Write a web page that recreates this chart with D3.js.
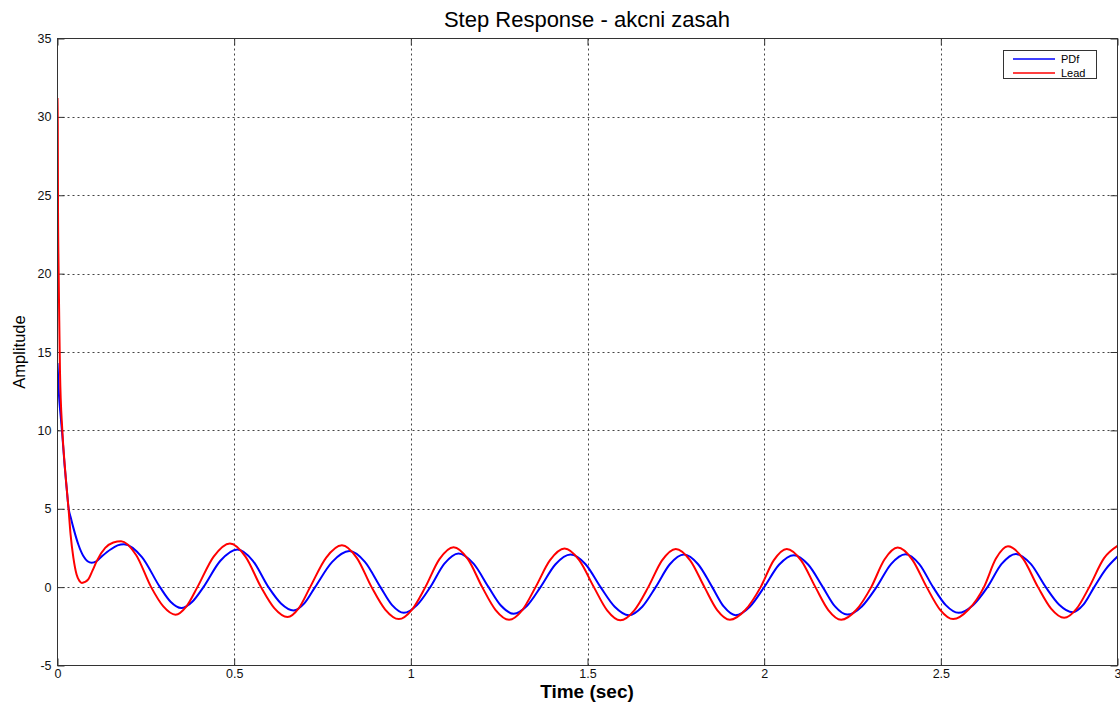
<!DOCTYPE html>
<html>
<head>
<meta charset="utf-8">
<script src="https://cdn.jsdelivr.net/npm/d3@7"></script>
<style>
  html, body { margin: 0; padding: 0; background: #fff; }
  svg { display: block; font-family: "Liberation Sans", Arial, sans-serif; }
</style>
</head>
<body>
<svg id="chart" width="1120" height="704"></svg>
<script>
// Axis ticks
const xTicks = [0, 0.5, 1, 1.5, 2, 2.5, 3];
const xTickLabels = ["0", "0.5", "1", "1.5", "2", "2.5", "3"];
const yTicks = [-5, 0, 5, 10, 15, 20, 25, 30, 35];
const yTickLabels = ["-5", "0", "5", "10", "15", "20", "25", "30", "35"];

// Series names
const seriesNames = ["PDf", "Lead"];
const seriesColors = ["#0000ff", "#ff0000"];

// PDf controller action signal [time (s), amplitude]
const pdfTime = [
  0, 0.004, 0.009, 0.014, 0.02, 0.026, 0.031, 0.038, 0.045, 0.059, 0.074, 0.085, 0.097, 0.11, 0.125, 0.15, 0.17, 0.188,
  0.239, 0.29, 0.32, 0.35, 0.3815, 0.413, 0.461, 0.509, 0.553, 0.597, 0.6325, 0.668, 0.6985, 0.729,
  0.7775, 0.826, 0.87, 0.914, 0.947, 0.98, 1.0175, 1.055, 1.095, 1.135, 1.1775, 1.22, 1.2555, 1.291,
  1.329, 1.367, 1.4095, 1.452, 1.4945, 1.537, 1.577, 1.617, 1.655, 1.693, 1.733, 1.773, 1.813, 1.853,
  1.886, 1.919, 1.9595, 2.0, 2.042, 2.084, 2.125, 2.166, 2.2005, 2.235, 2.2765, 2.318, 2.359, 2.4,
  2.439, 2.478, 2.514, 2.55, 2.591, 2.632, 2.672, 2.712, 2.7545, 2.797, 2.835, 2.873, 2.9035, 2.934,
  2.967, 3.0
];
const pdfValue = [
  14.3, 12.3, 10.9, 9.6, 7.8, 6.3, 5.1, 4.4, 3.78, 2.72, 1.95, 1.65, 1.55, 1.65, 1.95, 2.4, 2.66, 2.74,
  1.92, 0, -0.93, -1.33, -0.93, 0, 1.68, 2.4, 1.68, 0, -1.04, -1.49, -1.04, 0,
  1.61, 2.3, 1.61, 0, -1.15, -1.64, -1.15, 0, 1.5, 2.15, 1.5, 0, -1.19, -1.7,
  -1.19, 0, 1.46, 2.08, 1.46, 0, -1.25, -1.79, -1.25, 0, 1.46, 2.08, 1.46, 0,
  -1.25, -1.79, -1.25, 0, 1.43, 2.04, 1.43, 0, -1.23, -1.75, -1.23, 0, 1.47, 2.1,
  1.47, 0, -1.15, -1.64, -1.15, 0, 1.48, 2.12, 1.48, 0, -1.12, -1.6, -1.12, 0,
  1.15, 1.95
];

// Lead compensator action signal [time (s), amplitude]
const leadTime = [
  0, 0.0008, 0.0015, 0.003, 0.005, 0.007, 0.0136, 0.019, 0.024, 0.031, 0.037, 0.045, 0.054, 0.062, 0.069, 0.078, 0.087, 0.099, 0.111, 0.135, 0.158, 0.18,
  0.2225, 0.265, 0.2995, 0.334, 0.365, 0.396, 0.442, 0.488, 0.532, 0.576, 0.6135, 0.651, 0.683, 0.715,
  0.76, 0.805, 0.847, 0.889, 0.9275, 0.966, 1.0035, 1.041, 1.081, 1.121, 1.1615, 1.202, 1.24, 1.278,
  1.3155, 1.353, 1.394, 1.435, 1.4765, 1.518, 1.5555, 1.593, 1.6325, 1.672, 1.711, 1.75, 1.7905, 1.831,
  1.867, 1.903, 1.9465, 1.99, 2.027, 2.064, 2.1045, 2.145, 2.1815, 2.218, 2.2605, 2.303, 2.3405, 2.378,
  2.419, 2.46, 2.4975, 2.535, 2.5785, 2.622, 2.656, 2.69, 2.7325, 2.775, 2.812, 2.849, 2.8845, 2.92,
  2.962, 3.0
];
const leadValue = [
  31.2, 29.5, 24.0, 20.5, 17.0, 13.8, 10.0, 8.2, 6.8, 5.06, 3.36, 1.87, 0.81, 0.4, 0.27, 0.33, 0.49, 1.05, 1.66, 2.5, 2.85, 2.93,
  2.05, 0, -1.23, -1.76, -1.23, 0, 1.95, 2.79, 1.95, 0, -1.34, -1.91, -1.34, 0,
  1.87, 2.67, 1.87, 0, -1.43, -2.04, -1.43, 0, 1.79, 2.55, 1.79, 0, -1.46, -2.08,
  -1.46, 0, 1.72, 2.46, 1.72, 0, -1.48, -2.12, -1.48, 0, 1.71, 2.44, 1.71, 0,
  -1.46, -2.08, -1.46, 0, 1.71, 2.44, 1.71, 0, -1.46, -2.08, -1.46, 0, 1.76, 2.52,
  1.76, 0, -1.43, -2.04, -1.43, 0, 1.82, 2.6, 1.82, 0, -1.37, -1.96, -1.37, 0,
  1.85, 2.63
];

const svg = d3.select("#chart");
const plot = { left: 57.5, right: 1117.5, top: 38.5, bottom: 665.5 };

const x = d3.scaleLinear().domain([0, 3]).range([plot.left, plot.right]);
const y = d3.scaleLinear().domain([-5, 35]).range([plot.bottom, plot.top]);

const frameColor = "#333";
const tickLen = 7;

// grid lines (dotted)
const grid = svg.append("g").attr("stroke", "#444").attr("stroke-width", 1).attr("stroke-dasharray", "2,3");
xTicks.slice(1, -1).forEach(t => {
  grid.append("line").attr("x1", Math.round(x(t)) + 0.5).attr("x2", Math.round(x(t)) + 0.5)
    .attr("y1", plot.top).attr("y2", plot.bottom);
});
yTicks.slice(1, -1).forEach(t => {
  grid.append("line").attr("y1", Math.round(y(t)) + 0.5).attr("y2", Math.round(y(t)) + 0.5)
    .attr("x1", plot.left).attr("x2", plot.right);
});

// axes with inward ticks on all four sides
const axisBottom = d3.axisBottom(x).tickValues(xTicks).tickSizeInner(-tickLen).tickSizeOuter(0)
  .tickPadding(4).tickFormat((d, i) => xTickLabels[i]);
const axisTop = d3.axisTop(x).tickValues(xTicks).tickSizeInner(-tickLen).tickSizeOuter(0).tickFormat("");
const axisLeft = d3.axisLeft(y).tickValues(yTicks).tickSizeInner(-tickLen).tickSizeOuter(0)
  .tickPadding(6).tickFormat((d, i) => yTickLabels[i]);
const axisRight = d3.axisRight(y).tickValues(yTicks).tickSizeInner(-tickLen).tickSizeOuter(0).tickFormat("");

function styleAxis(g) {
  g.select(".domain").remove();
  g.selectAll(".tick line").attr("stroke", frameColor);
  g.selectAll(".tick text").attr("fill", "#111").style("font-size", "12.5px")
    .style("font-family", "'Liberation Sans', Arial, sans-serif");
}
svg.append("g").attr("transform", `translate(0,${plot.bottom})`).call(axisBottom).call(styleAxis);
svg.append("g").attr("transform", `translate(0,${plot.top})`).call(axisTop).call(styleAxis);
svg.append("g").attr("transform", `translate(${plot.left},0)`).call(axisLeft).call(styleAxis);
svg.append("g").attr("transform", `translate(${plot.right},0)`).call(axisRight).call(styleAxis);

// series
const line = d3.line().x(d => x(d[0])).y(d => y(d[1])).curve(d3.curveMonotoneX);
const series = [
  d3.zip(pdfTime, pdfValue),
  d3.zip(leadTime, leadValue)
];
svg.append("clipPath").attr("id", "plotClip").append("rect")
  .attr("x", plot.left).attr("y", plot.top)
  .attr("width", plot.right - plot.left).attr("height", plot.bottom - plot.top);
series.forEach((s, i) => {
  svg.append("path").datum(s).attr("d", line).attr("fill", "none")
    .attr("stroke", seriesColors[i]).attr("stroke-width", 2)
    .attr("stroke-linejoin", "round").attr("clip-path", "url(#plotClip)");
});

// frame
svg.append("rect").attr("x", plot.left).attr("y", plot.top)
  .attr("width", plot.right - plot.left).attr("height", plot.bottom - plot.top)
  .attr("fill", "none").attr("stroke", frameColor).attr("stroke-width", 1);

// title and axis labels
svg.append("text").attr("x", 587).attr("y", 27)
  .attr("text-anchor", "middle").style("font-size", "22px").attr("fill", "#000")
  .text("Step Response - akcni zasah");
svg.append("text").attr("x", 587).attr("y", 698)
  .attr("text-anchor", "middle").style("font-size", "19px").style("font-weight", "bold").attr("fill", "#000")
  .text("Time (sec)");
svg.append("text").attr("transform", `translate(25,${(plot.top + plot.bottom) / 2}) rotate(-90)`)
  .attr("text-anchor", "middle").style("font-size", "16.5px").attr("fill", "#000")
  .text("Amplitude");

// legend
const lg = svg.append("g");
lg.append("rect").attr("x", 1003.5).attr("y", 50.5).attr("width", 93).attr("height", 28)
  .attr("fill", "#fff").attr("stroke", frameColor);
seriesNames.forEach((name, i) => {
  const ly = 59 + i * 14;
  lg.append("line").attr("x1", 1013).attr("x2", 1055).attr("y1", ly).attr("y2", ly)
    .attr("stroke", seriesColors[i]).attr("stroke-width", 1.5);
  lg.append("text").attr("x", 1061).attr("y", ly + 4).style("font-size", "11px").attr("fill", "#000").text(name);
});
</script>
</body>
</html>
